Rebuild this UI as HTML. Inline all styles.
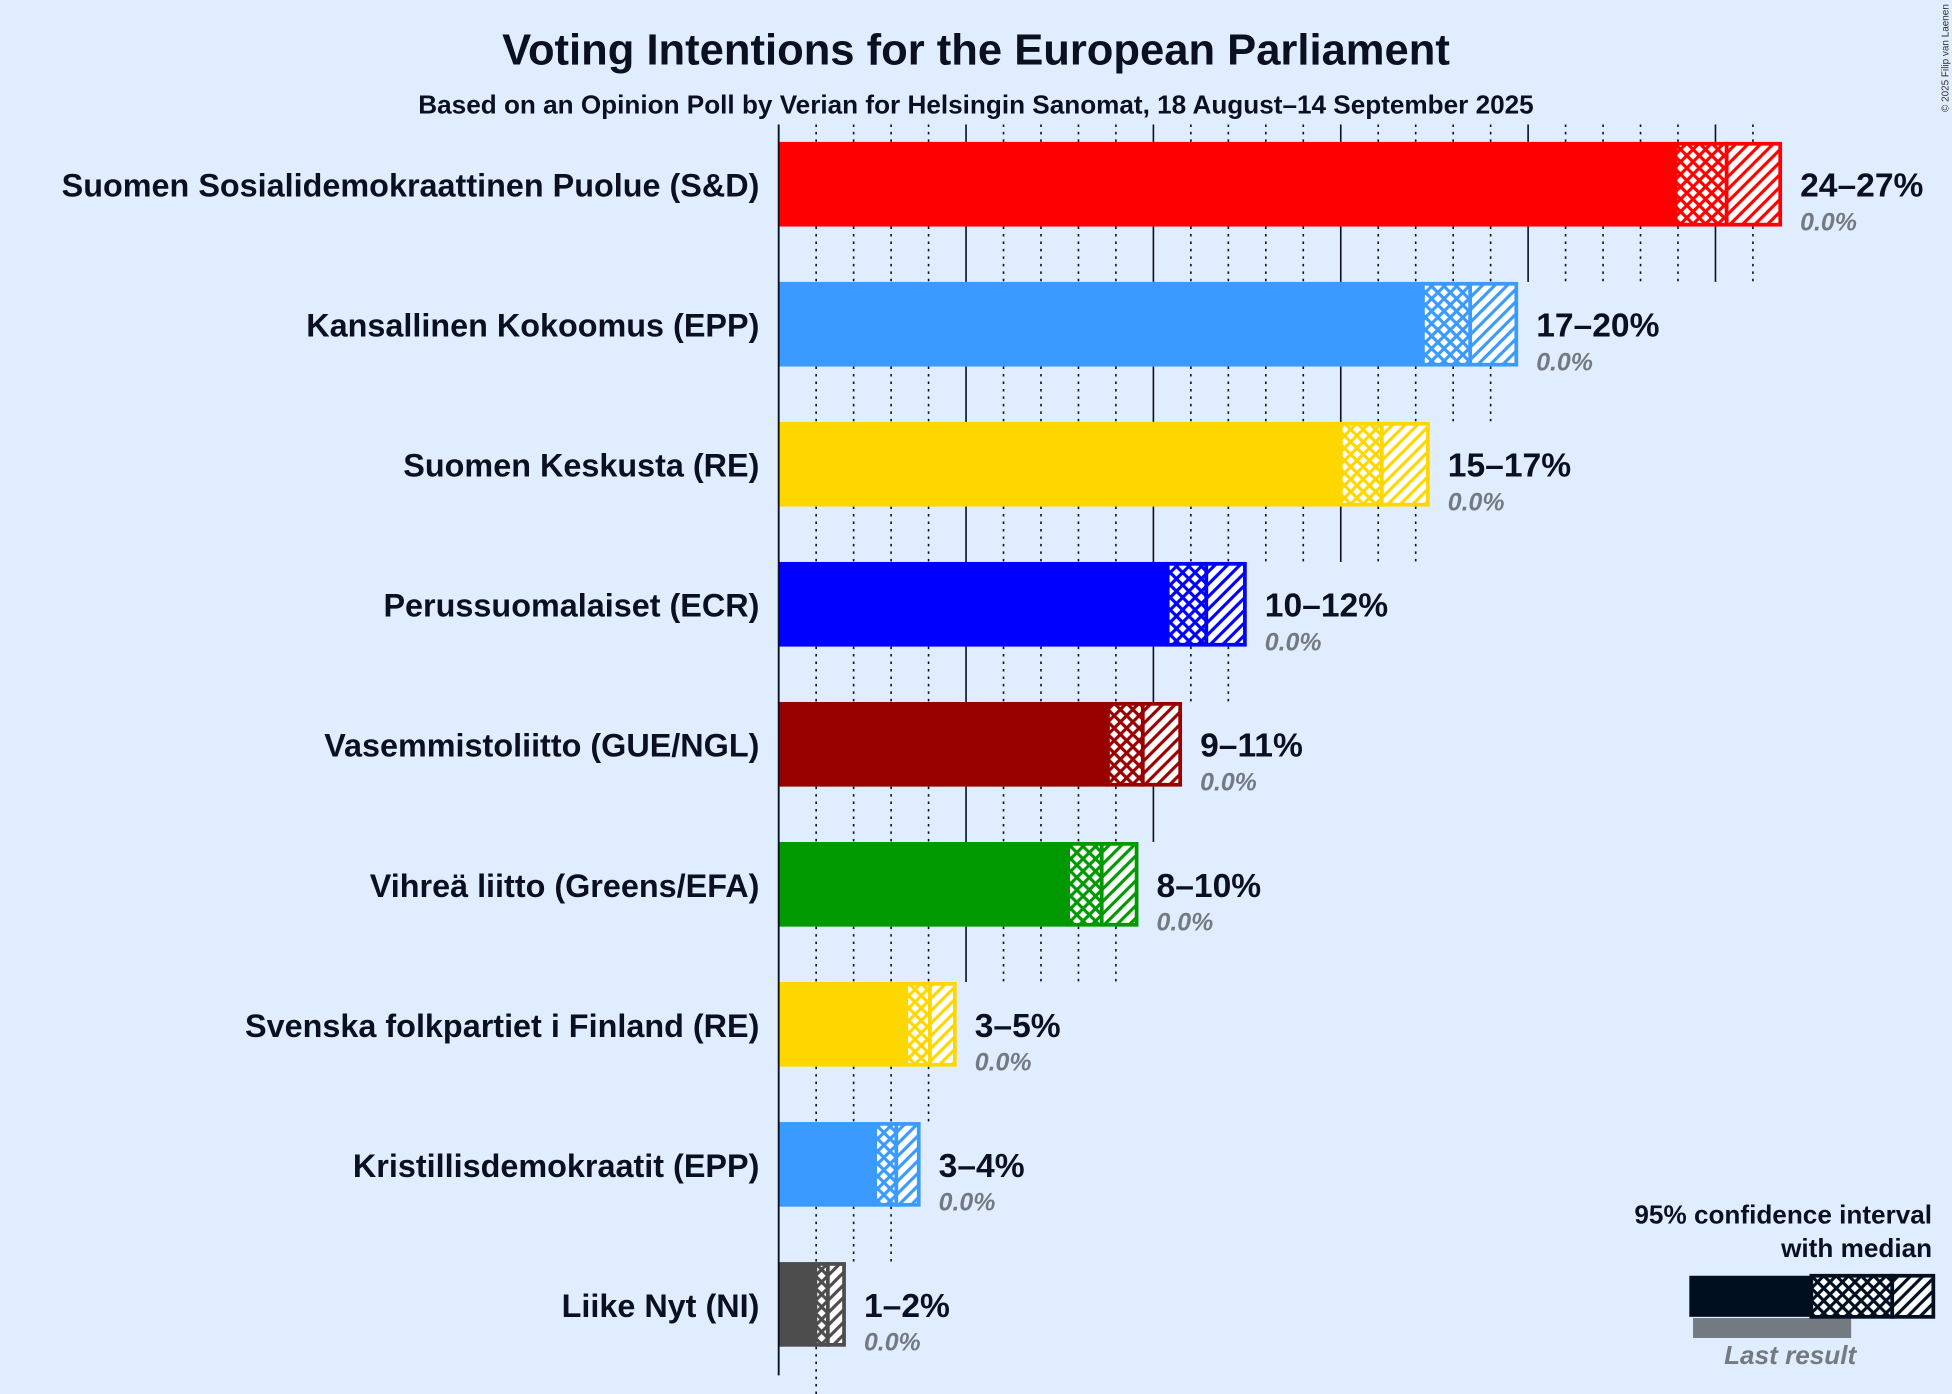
<!DOCTYPE html>
<html><head><meta charset="utf-8"><style>
html,body{margin:0;padding:0;background:#E0EDFE;}
svg{display:block;}
text{font-family:"Liberation Sans",sans-serif;}
</style></head><body>
<svg width="1952" height="1394" viewBox="0 0 1568 1120" preserveAspectRatio="none" xmlns="http://www.w3.org/2000/svg">
<defs>
<pattern id="cr0" width="10" height="10" patternUnits="userSpaceOnUse"><rect width="10" height="10" fill="#fff"/><path d="M0,0L10,10M10,0L0,10" stroke="#FF0000" stroke-width="2.5"/></pattern>
<pattern id="hc0" width="10" height="10" patternUnits="userSpaceOnUse"><rect width="10" height="10" fill="#fff"/><path d="M-2,12L12,-2M-2,2L2,-2M8,12L12,8" stroke="#FF0000" stroke-width="2.5"/></pattern>
<pattern id="cr1" width="10" height="10" patternUnits="userSpaceOnUse"><rect width="10" height="10" fill="#fff"/><path d="M0,0L10,10M10,0L0,10" stroke="#3A9AFF" stroke-width="2.5"/></pattern>
<pattern id="hc1" width="10" height="10" patternUnits="userSpaceOnUse"><rect width="10" height="10" fill="#fff"/><path d="M-2,12L12,-2M-2,2L2,-2M8,12L12,8" stroke="#3A9AFF" stroke-width="2.5"/></pattern>
<pattern id="cr2" width="10" height="10" patternUnits="userSpaceOnUse"><rect width="10" height="10" fill="#fff"/><path d="M0,0L10,10M10,0L0,10" stroke="#FFD700" stroke-width="2.5"/></pattern>
<pattern id="hc2" width="10" height="10" patternUnits="userSpaceOnUse"><rect width="10" height="10" fill="#fff"/><path d="M-2,12L12,-2M-2,2L2,-2M8,12L12,8" stroke="#FFD700" stroke-width="2.5"/></pattern>
<pattern id="cr3" width="10" height="10" patternUnits="userSpaceOnUse"><rect width="10" height="10" fill="#fff"/><path d="M0,0L10,10M10,0L0,10" stroke="#0000FF" stroke-width="2.5"/></pattern>
<pattern id="hc3" width="10" height="10" patternUnits="userSpaceOnUse"><rect width="10" height="10" fill="#fff"/><path d="M-2,12L12,-2M-2,2L2,-2M8,12L12,8" stroke="#0000FF" stroke-width="2.5"/></pattern>
<pattern id="cr4" width="10" height="10" patternUnits="userSpaceOnUse"><rect width="10" height="10" fill="#fff"/><path d="M0,0L10,10M10,0L0,10" stroke="#990000" stroke-width="2.5"/></pattern>
<pattern id="hc4" width="10" height="10" patternUnits="userSpaceOnUse"><rect width="10" height="10" fill="#fff"/><path d="M-2,12L12,-2M-2,2L2,-2M8,12L12,8" stroke="#990000" stroke-width="2.5"/></pattern>
<pattern id="cr5" width="10" height="10" patternUnits="userSpaceOnUse"><rect width="10" height="10" fill="#fff"/><path d="M0,0L10,10M10,0L0,10" stroke="#009900" stroke-width="2.5"/></pattern>
<pattern id="hc5" width="10" height="10" patternUnits="userSpaceOnUse"><rect width="10" height="10" fill="#fff"/><path d="M-2,12L12,-2M-2,2L2,-2M8,12L12,8" stroke="#009900" stroke-width="2.5"/></pattern>
<pattern id="cr6" width="10" height="10" patternUnits="userSpaceOnUse"><rect width="10" height="10" fill="#fff"/><path d="M0,0L10,10M10,0L0,10" stroke="#4D4D4D" stroke-width="2.5"/></pattern>
<pattern id="hc6" width="10" height="10" patternUnits="userSpaceOnUse"><rect width="10" height="10" fill="#fff"/><path d="M-2,12L12,-2M-2,2L2,-2M8,12L12,8" stroke="#4D4D4D" stroke-width="2.5"/></pattern>
<pattern id="crL" width="10" height="10" patternUnits="userSpaceOnUse"><rect width="10" height="10" fill="#fff"/><path d="M0,0L10,10M10,0L0,10" stroke="#000F1F" stroke-width="2.5"/></pattern>
<pattern id="hcL" width="10" height="10" patternUnits="userSpaceOnUse"><rect width="10" height="10" fill="#fff"/><path d="M-2,12L12,-2M-2,2L2,-2M8,12L12,8" stroke="#000F1F" stroke-width="2.5"/></pattern>
</defs>
<rect width="1568" height="1120" fill="#E0EDFE"/>
<text x="784" y="52" text-anchor="middle" font-size="35" font-weight="bold" fill="#0A1020">Voting Intentions for the European Parliament</text>
<text x="784" y="91" text-anchor="middle" font-size="20.5" font-weight="bold" fill="#0A1020" textLength="896" lengthAdjust="spacingAndGlyphs">Based on an Opinion Poll by Verian for Helsingin Sanomat, 18 August–14 September 2025</text>
<text transform="translate(1565,90) rotate(-90)" font-size="8" fill="#333">© 2025 Filip van Laenen</text>
<g id="grid" stroke="#0A1020" stroke-width="1.3"></g>
<g id="bars"></g>
<line x1="625.5" y1="100" x2="625.5" y2="1105" stroke="#0A1020" stroke-width="1.5"/>
<text x="1552" y="983" text-anchor="end" font-size="21" font-weight="bold" fill="#0A1020">95% confidence interval</text>
<text x="1552" y="1010" text-anchor="end" font-size="21" font-weight="bold" fill="#0A1020">with median</text>
<rect x="1360" y="1059" width="127" height="16" fill="#747A82"/>
<rect x="1357" y="1025" width="98" height="33" fill="#000F1F"/>
<rect x="1455" y="1025" width="65" height="33" fill="url(#crL)" stroke="#000F1F" stroke-width="3"/>
<rect x="1520" y="1025" width="33" height="33" fill="url(#hcL)" stroke="#000F1F" stroke-width="3"/>
<text x="1438" y="1096" text-anchor="middle" font-size="21" font-style="italic" font-weight="bold" fill="#747A82">Last result</text>
<script>
var rows=[
["Suomen Sosialidemokraattinen Puolue (S&D)","#FF0000",1346,1387,1430,"24–27%",0],
["Kansallinen Kokoomus (EPP)","#3A9AFF",1143,1181,1218,"17–20%",1],
["Suomen Keskusta (RE)","#FFD700",1077,1110,1147,"15–17%",2],
["Perussuomalaiset (ECR)","#0000FF",938,969,1000,"10–12%",3],
["Vasemmistoliitto (GUE/NGL)","#990000",890,918,948,"9–11%",4],
["Vihreä liitto (Greens/EFA)","#009900",858,885,913,"8–10%",5],
["Svenska folkpartiet i Finland (RE)","#FFD700",728,747,767,"3–5%",2],
["Kristillisdemokraatit (EPP)","#3A9AFF",703,720,738,"3–4%",1],
["Liike Nyt (NI)","#4D4D4D",655,665,678,"1–2%",6]];
var NS="http://www.w3.org/2000/svg";
var g=document.getElementById("grid"),b=document.getElementById("bars");
function el(t,a,p,txt){var e=document.createElementNS(NS,t);for(var k in a)e.setAttribute(k,a[k]);if(txt)e.textContent=txt;p.appendChild(e);return e;}
var x0=625.5,u=30.1;
for(var i=1;i<=27;i++){var x=x0+i*u;if(x>1430)break;var maj=i%5==0;el("line",{x1:x,y1:100,x2:x,y2:114,"stroke-dasharray":maj?"":"2,4"},g);}
rows.forEach(function(r,j){
 var c=148+j*112.5,top=c-34;
 var yb=c+34,ye=c+78.5;
 for(var i=1;i<=27;i++){var x=x0+i*u;if(x>r[4]-2)break;var maj=i%5==0;el("line",{x1:x,y1:yb,x2:x,y2:ye,"stroke-dasharray":maj?"":"2,4"},g);}
 el("rect",{x:x0,y:top,width:r[2]-x0,height:68,fill:r[1]},b);
 el("rect",{x:r[2],y:top+1.5,width:r[3]-r[2],height:65,fill:"url(#cr"+r[6]+")",stroke:r[1],"stroke-width":3},b);
 el("rect",{x:r[3],y:top+1.5,width:r[4]-r[3],height:65,fill:"url(#hc"+r[6]+")",stroke:r[1],"stroke-width":3},b);
 el("text",{x:610,y:c+10,"text-anchor":"end","font-size":"26","font-weight":"bold",fill:"#0A1020"},b,r[0]);
 el("text",{x:r[4]+16,y:c+10,"font-size":"27","font-weight":"bold",fill:"#0A1020"},b,r[5]);
 el("text",{x:r[4]+16,y:c+37,"font-size":"20","font-weight":"bold","font-style":"italic",fill:"#747A82"},b,"0.0%");
});
</script>
</svg>
</body></html>
